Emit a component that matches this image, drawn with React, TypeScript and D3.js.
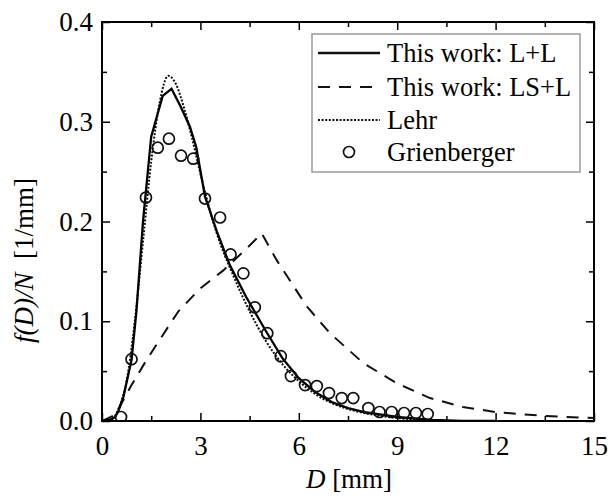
import { useEffect, useRef } from 'react';
import * as d3 from 'd3';

// This work: L+L (solid)
const llX = [0, 0.25, 0.4, 0.5, 0.65, 0.9, 1.05, 1.25, 1.5, 1.85, 2.12, 2.4, 2.68, 2.87, 3.14, 3.5, 3.9, 4.4, 5.0, 5.5, 6.0, 6.5, 7.0, 7.5, 8.0, 9.0, 10.0, 11.0, 12.0];
const llY = [0, 0.001, 0.004, 0.01, 0.024, 0.061, 0.11, 0.2, 0.285, 0.326, 0.333, 0.315, 0.295, 0.275, 0.225, 0.19, 0.156, 0.124, 0.09, 0.063, 0.043, 0.029, 0.019, 0.013, 0.009, 0.004, 0.001, 0.0, 0.0];

// This work: LS+L (dashed)
const lslX = [0, 0.4, 0.9, 1.3, 1.67, 2.33, 3.0, 3.7, 4.41, 4.87, 5.33, 6.24, 6.95, 7.97, 8.98, 10.0, 11.0, 12.0, 13.5, 15.0];
const lslY = [0, 0.006, 0.036, 0.058, 0.077, 0.11, 0.133, 0.151, 0.173, 0.188, 0.161, 0.115, 0.088, 0.058, 0.038, 0.023, 0.014, 0.009, 0.005, 0.003];

// Lehr (dotted)
const lehrX = [0, 0.3, 0.5, 0.75, 1.0, 1.25, 1.5, 1.75, 2.02, 2.25, 2.5, 2.75, 3.0, 3.5, 4.0, 4.5, 5.0, 5.5, 6.0, 6.5, 7.0, 7.5, 8.0, 9.0, 10.0, 11.0, 12.0];
const lehrY = [0, 0.002, 0.012, 0.04, 0.1, 0.18, 0.26, 0.318, 0.346, 0.338, 0.314, 0.283, 0.248, 0.188, 0.146, 0.11, 0.08, 0.057, 0.04, 0.027, 0.018, 0.012, 0.008, 0.003, 0.001, 0.0, 0.0];

// Grienberger (circles)
const grX = [0.58, 0.9, 1.34, 1.7, 2.04, 2.41, 2.78, 3.14, 3.6, 3.92, 4.31, 4.66, 5.04, 5.45, 5.76, 6.19, 6.55, 6.92, 7.31, 7.66, 8.12, 8.46, 8.83, 9.21, 9.57, 9.93];
const grY = [0.004, 0.062, 0.224, 0.274, 0.283, 0.266, 0.263, 0.223, 0.204, 0.167, 0.148, 0.114, 0.088, 0.065, 0.045, 0.036, 0.035, 0.028, 0.023, 0.023, 0.013, 0.009, 0.009, 0.008, 0.008, 0.007];

const xMajor = [0, 3, 6, 9, 12, 15];
const xMinor = [1.5, 4.5, 7.5, 10.5, 13.5];
const yMajor = [0, 0.1, 0.2, 0.3, 0.4];
const yMinor = [0.05, 0.15, 0.25, 0.35];

const legendLabels = ['This work: L+L', 'This work: LS+L', 'Lehr', 'Grienberger'];

const FONT = "'Liberation Serif', 'Times New Roman', serif";

export default function App() {
  const svgRef = useRef<SVGSVGElement>(null);

  useEffect(() => {
    const width = 610;
    const height = 496;
    const margin = { top: 22, right: 16, bottom: 75, left: 102 };

    const svg = d3.select(svgRef.current)
      .attr('width', width)
      .attr('height', height);
    svg.selectAll('*').remove();

    const x = d3.scaleLinear().domain([0, 15]).range([margin.left, width - margin.right]);
    const y = d3.scaleLinear().domain([0, 0.4]).range([height - margin.bottom, margin.top]);

    const fmtY = d3.format('.1f');

    // axes, ticks pointing inward
    const bottom = height - margin.bottom;
    const right = width - margin.right;

    const addAxis = (axis, tx, ty) => {
      const g = svg.append('g').attr('transform', `translate(${tx},${ty})`).call(axis);
      g.select('.domain').remove();
      g.selectAll('line').attr('stroke', '#000').attr('stroke-width', 1.5);
      g.selectAll('text').attr('font-family', FONT).attr('font-size', 27).attr('fill', '#000');
      return g;
    };

    addAxis(d3.axisBottom(x).tickValues(xMajor).tickSizeInner(-8).tickSizeOuter(0).tickPadding(15).tickFormat(d3.format('d')), 0, bottom);
    addAxis(d3.axisBottom(x).tickValues(xMinor).tickSizeInner(-5).tickSizeOuter(0).tickFormat(() => ''), 0, bottom);
    addAxis(d3.axisTop(x).tickValues(xMajor).tickSizeInner(-8).tickSizeOuter(0).tickFormat(() => ''), 0, margin.top);
    addAxis(d3.axisTop(x).tickValues(xMinor).tickSizeInner(-5).tickSizeOuter(0).tickFormat(() => ''), 0, margin.top);

    addAxis(d3.axisLeft(y).tickValues(yMajor).tickSizeInner(-8).tickSizeOuter(0).tickPadding(9).tickFormat(fmtY), margin.left, 0);
    addAxis(d3.axisLeft(y).tickValues(yMinor).tickSizeInner(-5).tickSizeOuter(0).tickFormat(() => ''), margin.left, 0);
    addAxis(d3.axisRight(y).tickValues(yMajor).tickSizeInner(-8).tickSizeOuter(0).tickFormat(() => ''), right, 0);
    addAxis(d3.axisRight(y).tickValues(yMinor).tickSizeInner(-5).tickSizeOuter(0).tickFormat(() => ''), right, 0);

    // clip curves to the plot
    svg.append('clipPath').attr('id', 'plot-clip')
      .append('rect')
      .attr('x', margin.left).attr('y', margin.top)
      .attr('width', right - margin.left).attr('height', bottom - margin.top);

    const plot = svg.append('g').attr('clip-path', 'url(#plot-clip)');

    const lineLinear = d3.line<number>().x((d) => x(d[0])).y((d) => y(d[1]));
    const lineSmooth = d3.line<number>().x((d) => x(d[0])).y((d) => y(d[1])).curve(d3.curveMonotoneX);

    plot.append('path')
      .attr('d', lineLinear(lslX.map((v, i) => [v, lslY[i]])))
      .attr('fill', 'none').attr('stroke', '#111').attr('stroke-width', 2)
      .attr('stroke-dasharray', '12,9');

    plot.append('path')
      .attr('d', lineSmooth(lehrX.map((v, i) => [v, lehrY[i]])))
      .attr('fill', 'none').attr('stroke', '#111').attr('stroke-width', 2)
      .attr('stroke-dasharray', '2,1.6');

    plot.append('path')
      .attr('d', lineLinear(llX.map((v, i) => [v, llY[i]])))
      .attr('fill', 'none').attr('stroke', '#000').attr('stroke-width', 2.3);

    plot.selectAll('circle.gr')
      .data(grX.map((v, i) => [v, grY[i]]))
      .enter()
      .append('circle')
      .attr('class', 'gr')
      .attr('cx', (d) => x(d[0]))
      .attr('cy', (d) => y(d[1]))
      .attr('r', 5.5)
      .attr('fill', 'none')
      .attr('stroke', '#111')
      .attr('stroke-width', 1.7);

    // frame
    svg.append('rect')
      .attr('x', margin.left).attr('y', margin.top)
      .attr('width', right - margin.left).attr('height', bottom - margin.top)
      .attr('fill', 'none').attr('stroke', '#000').attr('stroke-width', 2);

    // axis titles
    const xt = svg.append('text')
      .attr('x', (margin.left + right) / 2 + 1)
      .attr('y', 488)
      .attr('text-anchor', 'middle')
      .attr('font-family', FONT).attr('font-size', 27);
    xt.append('tspan').attr('font-style', 'italic').text('D');
    xt.append('tspan').text(' [mm]');

    const yt = svg.append('text')
      .attr('transform', `translate(33,${(margin.top + bottom) / 2 + 39}) rotate(-90)`)
      .attr('text-anchor', 'middle')
      .attr('font-family', FONT).attr('font-size', 27);
    yt.append('tspan').attr('font-style', 'italic').text('f(D)/N');
    yt.append('tspan').text('\u00a0\u00a0[1/mm]');

    // legend
    const lg = svg.append('g');
    lg.append('rect')
      .attr('x', 312).attr('y', 34).attr('width', 268).attr('height', 138)
      .attr('fill', '#fff').attr('stroke', '#9a9a9a').attr('stroke-width', 1.5);

    const rowY = [53, 87, 120, 152];
    const styles = [
      { dash: null, w: 2.3 },
      { dash: '12,9', w: 2 },
      { dash: '2,1.6', w: 2 },
    ];
    legendLabels.forEach((label, i) => {
      if (i < 3) {
        lg.append('line')
          .attr('x1', 318).attr('x2', 380)
          .attr('y1', rowY[i]).attr('y2', rowY[i])
          .attr('stroke', '#111').attr('stroke-width', styles[i].w)
          .attr('stroke-dasharray', styles[i].dash);
      } else {
        lg.append('circle')
          .attr('cx', 349).attr('cy', rowY[i]).attr('r', 5.5)
          .attr('fill', 'none').attr('stroke', '#111').attr('stroke-width', 1.7);
      }
      lg.append('text')
        .attr('x', 387).attr('y', rowY[i] + 9)
        .attr('font-family', FONT).attr('font-size', 26.5)
        .text(label);
    });
  }, []);

  return <svg ref={svgRef} style={{ position: 'absolute', left: 0, top: 0 }}></svg>;
}
